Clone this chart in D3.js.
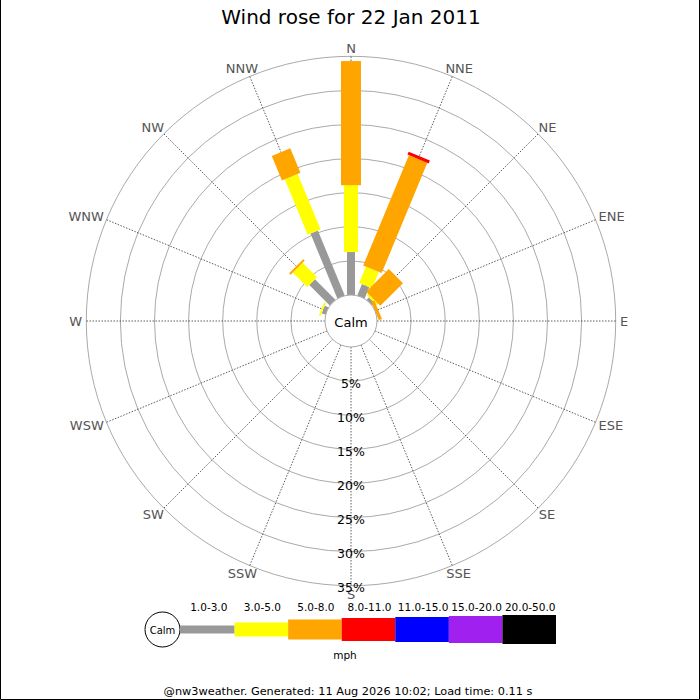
<!DOCTYPE html>
<html>
<head>
<meta charset="utf-8">
<script src="https://cdn.jsdelivr.net/npm/d3@7"></script>
<style>
html,body{margin:0;padding:0;background:#fff;}
svg{display:block;font-family:"DejaVu Sans",sans-serif;}
</style>
</head>
<body>
<svg id="chart" width="700" height="700"></svg>
<script>
// ---- data ----
const title = "Wind rose for 22 Jan 2011";
const directions = ["N","NNE","NE","ENE","E","ESE","SE","SSE","S","SSW","SW","WSW","W","WNW","NW","NNW"];
const speedBins = ["1.0-3.0","3.0-5.0","5.0-8.0","8.0-11.0","11.0-15.0","15.0-20.0","20.0-50.0"];
const binColors = ["#999999","#ffff00","#ffa500","#ff0000","#0000ff","#a020f0","#000000"];
// percent of time per direction, per speed bin
const bin1_3   = [6.3, 1.8, 0.5, 0, 0, 0, 0, 0, 0, 0, 0, 0, 0, 0.6, 4.25, 10.3];
const bin3_5   = [9.8, 2.6, 0.3, 0, 0, 0, 0, 0, 0, 0, 0, 0, 0, 0.25, 3.0, 8.8];
const bin5_8   = [18.2, 17.5, 4.7, 0.5, 0, 0, 0, 0, 0, 0, 0, 0, 0, 0, 0.3, 3.9];
const bin8_11  = [0, 0.45, 0, 0, 0, 0, 0, 0, 0, 0, 0, 0, 0, 0, 0, 0];
const bin11_15 = [0, 0, 0, 0, 0, 0, 0, 0, 0, 0, 0, 0, 0, 0, 0, 0];
const bin15_20 = [0, 0, 0, 0, 0, 0, 0, 0, 0, 0, 0, 0, 0, 0, 0, 0];
const bin20_50 = [0, 0, 0, 0, 0, 0, 0, 0, 0, 0, 0, 0, 0, 0, 0, 0];
const ringTicks = [5, 10, 15, 20, 25, 30, 35];
const ringLabels = ["5%","10%","15%","20%","25%","30%","35%"];
const unitLabel = "mph";
const calmLabel = "Calm";
const footer = "@nw3weather. Generated: 11 Aug 2026 10:02; Load time: 0.11 s";

// ---- layout ----
const svg = d3.select("#chart");
const cx = 351, cy = 321;
const r0 = 26;
const barWidths = [8, 14, 20, 23, 25, 27, 29];
const series = [bin1_3, bin3_5, bin5_8, bin8_11, bin11_15, bin15_20, bin20_50];

const r = d3.scaleLinear().domain([0, 35]).range([r0, 264.7]);
const angle = d3.scalePoint().domain(directions).range([0, 360 - 22.5]);
const rad = d => angle(d) * Math.PI / 180;

// border (left, right, bottom)
svg.append("path").attr("d","M0.5,0 V699.5 H699.5 V0")
  .attr("fill","none").attr("stroke","#000").attr("stroke-width",1);

// title
svg.append("text").attr("x", 351).attr("y", 24).attr("text-anchor","middle")
  .attr("font-size", 20).attr("fill","#000").text(title);

const g = svg.append("g").attr("transform", `translate(${cx},${cy})`);

// rings
g.selectAll("circle.ring").data(ringTicks).join("circle")
  .attr("class","ring").attr("r", d => r(d))
  .attr("fill","none").attr("stroke","#aaaaaa").attr("stroke-width",1);

// spokes
g.selectAll("line.spoke").data(directions).join("line")
  .attr("class","spoke")
  .attr("x1", d => r0 * Math.sin(rad(d)))
  .attr("y1", d => -r0 * Math.cos(rad(d)))
  .attr("x2", d => r(35) * Math.sin(rad(d)))
  .attr("y2", d => -r(35) * Math.cos(rad(d)))
  .attr("stroke","#333").attr("stroke-width",0.8).attr("stroke-dasharray","1.5,1.5");

// direction labels (pushed out by half their width on the sides)
g.selectAll("text.dir").data(directions).join("text")
  .attr("class","dir")
  .attr("text-anchor","middle").attr("dominant-baseline","central")
  .attr("font-size", 13).attr("fill","#555").text(d => d)
  .each(function(d) {
    const w = this.getComputedTextLength();
    d3.select(this)
      .attr("x", (269 + w/2) * Math.sin(rad(d)))
      .attr("y", -273 * Math.cos(rad(d)));
  });

// bars (stacked outward)
directions.forEach((dir, i) => {
  const bg = g.append("g").attr("transform", `rotate(${angle(dir)})`);
  let cum = 0;
  series.forEach((s, b) => {
    const v = s[i];
    if (v > 0) {
      const a = r(cum), e = r(cum + v);
      bg.append("rect")
        .attr("x", -barWidths[b]/2).attr("width", barWidths[b])
        .attr("y", -e).attr("height", e - a)
        .attr("fill", binColors[b]);
    }
    cum += v;
  });
});

// calm circle
g.append("circle").attr("r", r0).attr("fill","#fff").attr("stroke","#aaaaaa").attr("stroke-width",1);
g.append("text").attr("x",0).attr("y",1).attr("text-anchor","middle").attr("dominant-baseline","central")
  .attr("font-size", 13).attr("fill","#000").text(calmLabel);

// ring labels
g.selectAll("text.rl").data(ringTicks).join("text")
  .attr("class","rl").attr("x", 0).attr("y", (d) => r(d) + 2)
  .attr("text-anchor","middle").attr("dominant-baseline","central")
  .attr("font-size", 12.5).attr("fill","#000")
  .text((d, i) => ringLabels[i]);

// ---- legend ----
const lx = d3.scaleBand().domain(speedBins).range([181, 556]);
const ly = 629.5;
const lg = svg.append("g");
lg.append("circle").attr("cx", 162.5).attr("cy", ly).attr("r", 17.5)
  .attr("fill","#fff").attr("stroke","#000").attr("stroke-width",1);
lg.append("text").attr("x",162.5).attr("y",ly+0.5).attr("text-anchor","middle").attr("dominant-baseline","central")
  .attr("font-size",10).text(calmLabel);
lg.selectAll("rect").data(speedBins).join("rect")
  .attr("x", d => lx(d) - (d === speedBins[0] ? 1 : 0))
  .attr("width", (d) => lx.bandwidth() + (d === speedBins[0] ? 1 : 0))
  .attr("y", (d, i) => ly - barWidths[i]/2)
  .attr("height", (d, i) => barWidths[i])
  .attr("fill", (d, i) => binColors[i]);
lg.selectAll("text.bl").data(speedBins).join("text")
  .attr("class","bl")
  .attr("x", d => lx(d) + lx.bandwidth()/2 + 1)
  .attr("y", 607).attr("text-anchor","middle").attr("dominant-baseline","central")
  .attr("font-size",10.5).text(d => d);
lg.append("text").attr("x",345).attr("y",655).attr("text-anchor","middle").attr("dominant-baseline","central")
  .attr("font-size",10.5).text(unitLabel);

svg.append("text").attr("x",348).attr("y",695).attr("text-anchor","middle")
  .attr("font-size",11.3).text(footer);
</script>
</body>
</html>
